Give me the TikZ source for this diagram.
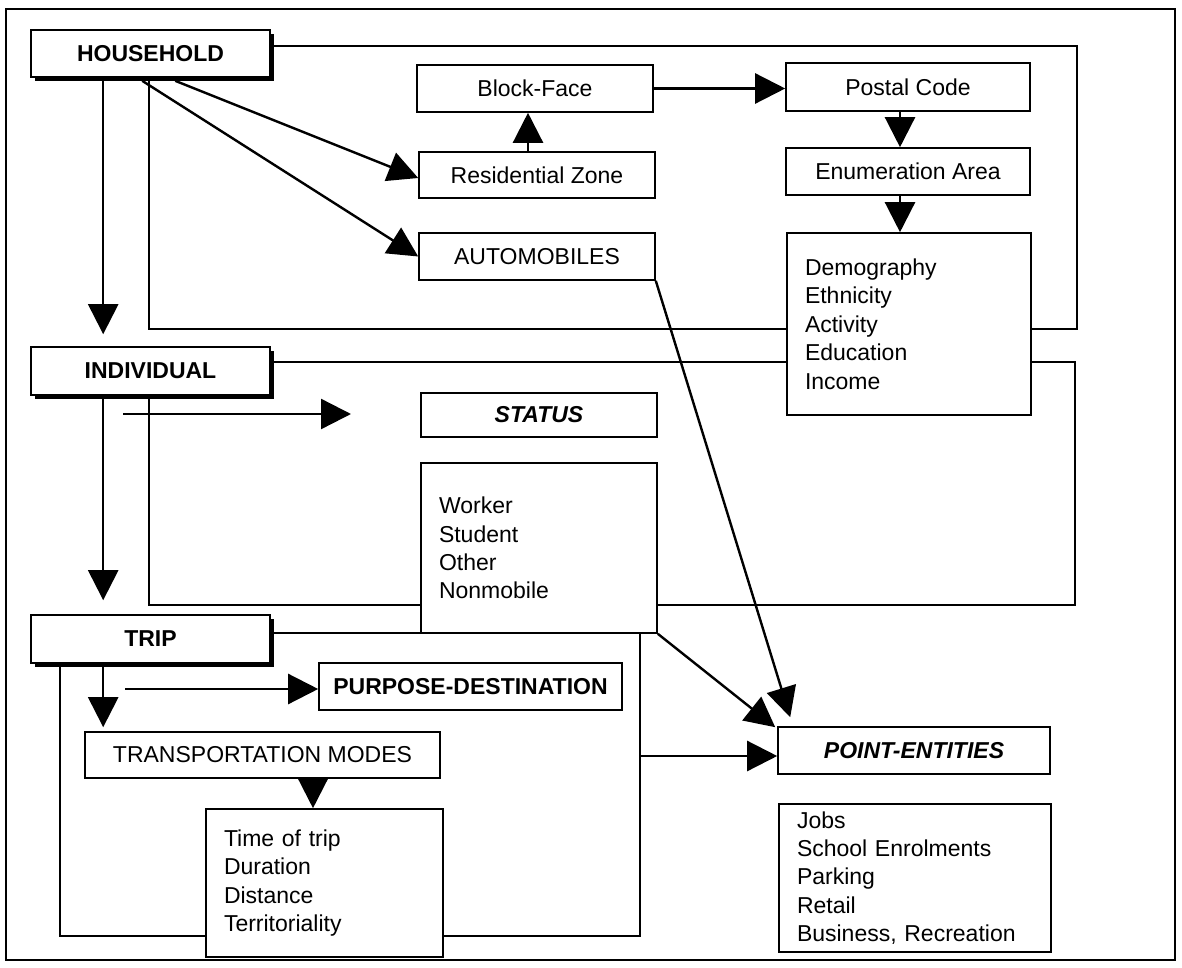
\documentclass[tikz,border=0pt]{standalone}
\usepackage{fontspec}
\setmainfont{Liberation Sans}
\usetikzlibrary{arrows.meta,calc,shadows}
\newcommand\dfont{\fontsize{11.5}{14.2}\selectfont}
\begin{document}
\begin{tikzpicture}[x=0.5pt,y=-0.5pt,
  every node/.style={font=\dfont},
  box/.style={draw, fill=white, line width=0.8pt, inner sep=0pt},
  shbox/.style={box, drop shadow={shadow xshift=2pt, shadow yshift=-2pt, fill=black, opacity=1}},
  listbox/.style={box, align=left},
  bold/.style={font=\dfont\bfseries},
  bi/.style={font=\dfont\bfseries\itshape},
  arr/.style={line width=1.2pt, -{Triangle[length=15pt,width=15pt]}},
  bracket/.style={line width=0.8pt},
  frame/.style={line width=1.3pt}]
\useasboundingbox (0,0) rectangle (1182,968);
\draw[frame] (6,9) rectangle (1175,960);
% group brackets
\draw[bracket] (149,46) rectangle (1077,329);
\draw[bracket] (149,362) rectangle (1075,605);
\draw[bracket] (60,633) rectangle (640,936);
% main entities
\node[shbox,bold,minimum width=119.5pt,minimum height=23.5pt] (hh) at (150.5,53.5) {HOUSEHOLD};
\node[shbox,bold,minimum width=119.5pt,minimum height=24pt] (ind) at (150.5,371) {INDIVIDUAL};
\node[shbox,bold,minimum width=119.5pt,minimum height=24pt] (trip) at (150.5,639) {TRIP};
% household part
\node[box,minimum width=118pt,minimum height=23.5pt] (bf) at (535,88.5) {Block-Face};
\node[box,minimum width=118pt,minimum height=23pt] (res) at (537,175) {Residential Zone};
\node[box,minimum width=118pt,minimum height=23.5pt] (auto) at (537,256.5) {AUTOMOBILES};
\node[box,minimum width=122pt,minimum height=24pt] (pc) at (908,87) {Postal Code};
\node[box,minimum width=122pt,minimum height=23.5pt] (ea) at (908,171.5) {Enumeration Area};
\node[listbox,minimum width=122pt,minimum height=91pt,text width=104pt] (dem) at (909,324) {Demography\\Ethnicity\\Activity\\Education\\Income};
% individual part
\node[box,bi,minimum width=118pt,minimum height=22pt] (st) at (539,415) {STATUS};
\node[listbox,minimum width=118pt,minimum height=85pt,text width=100pt] (sl) at (539,548) {Worker\\Student\\Other\\Nonmobile};
% trip part
\node[box,bold,minimum width=151.5pt,minimum height=23.5pt] (pd) at (470.5,686.5) {PURPOSE-DESTINATION};
\node[box,minimum width=177.5pt,minimum height=23pt] (tm) at (262.5,755) {TRANSPORTATION MODES};
\node[listbox,minimum width=118.5pt,minimum height=74pt,text width=100.5pt] (tob) at (324.5,883) {Time of trip\\Duration\\Distance\\Territoriality};
% point entities
\node[box,bi,minimum width=136pt,minimum height=23.5pt] (pe) at (914,750.5) {POINT-ENTITIES};
\node[listbox,minimum width=136pt,minimum height=74pt,text width=118pt] (jobs) at (915,878) {Jobs\\School Enrolments\\Parking\\Retail\\Business, Recreation};
% free arrow ends
\coordinate (s1) at (123,414);
\coordinate (s2) at (351,414);
\coordinate (p1) at (125,689);
\coordinate (tb) at (640,756);
% connectors
\draw[arr] ($(hh.south west)+(73,0)$) -- ($(ind.north west)+(73,-12)$);
\draw[arr] ($(hh.south west)+(145,3)$) -- ($(res.west)+(0,3)$);
\draw[arr] ($(hh.south west)+(112,3)$) -- (auto.west);
\draw[arr] ($(res.north)+(-9,0)$) -- ($(bf.south)+(-7,0)$);
\draw[arr] (bf.east) -- (bf.east -| pc.west);
\draw[arr] ($(pc.south)+(-8,0)$) -- ($(ea.north)+(-8,0)$);
\draw[arr] ($(ea.south)+(-8,0)$) -- ($(dem.north)+(-9,0)$);
\draw[arr] ($(ind.south west)+(73,0)$) -- ($(trip.north west)+(73,-14)$);
\draw[arr] (s1) -- (s2);
\draw[arr] ($(trip.south west)+(73,0)$) -- ($(tm.north west)+(19,-4)$);
\draw[arr] (p1) -- (p1 -| pd.west);
\draw[arr] ($(tm.south)+(50.5,0)$) -- ($(tob.north)+(-11.5,0)$);
\draw[arr] (sl.south east) -- ($(pe.north west)+(-2,1)$);
\draw[arr] (auto.south east) -- ($(pe.north west)+(13,-9)$);
\draw[arr] (tb) -- (tb -| pe.west);
\end{tikzpicture}
\end{document}
